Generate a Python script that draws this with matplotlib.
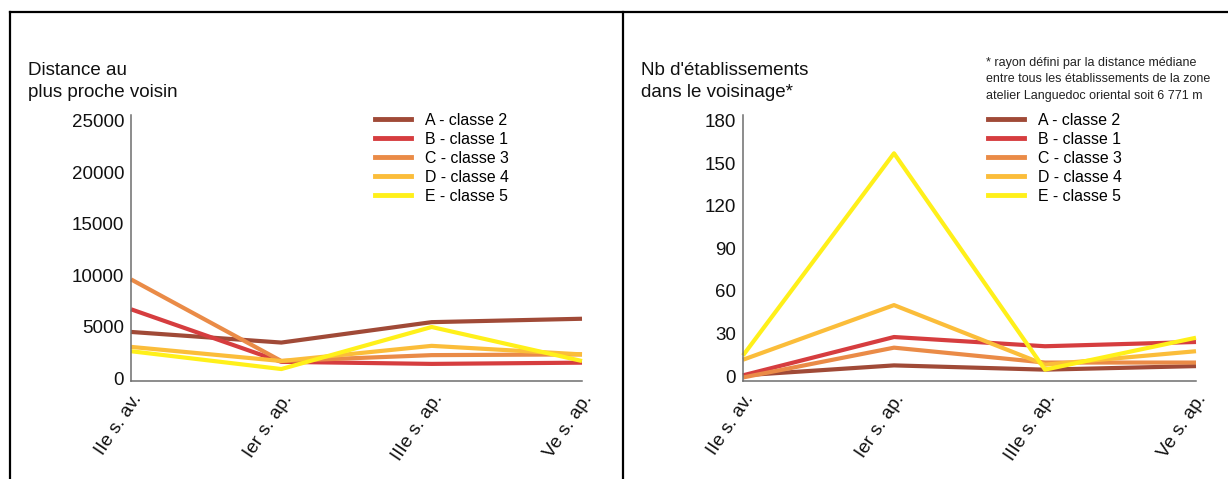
import numpy as np
import matplotlib.pyplot as plt
from matplotlib.lines import Line2D

plt.rcParams['font.family'] = ['Liberation Sans', 'DejaVu Sans']

W, H = 1228, 479

periods = ["IIe s. av.", "Ier s. ap.", "IIIe s. ap.", "Ve s. ap."]
labels = ["A - classe 2", "B - classe 1", "C - classe 3", "D - classe 4", "E - classe 5"]
colors = ["#a04a37", "#d63d3f", "#ea8b47", "#fbbd3a", "#fff01a"]

# distance au plus proche voisin (m)
dist_A = [4500, 3470, 5450, 5780]
dist_B = [6700, 1600, 1400, 1520]
dist_C = [9600, 1680, 2250, 2320]
dist_D = [3050, 1680, 3150, 2320]
dist_E = [2630, 900, 4980, 1680]

# nb d'etablissements dans le voisinage
nb_A = [0.5, 7.5, 4.5, 7]
nb_B = [0.5, 27.5, 21, 24]
nb_C = [-1, 20, 9.5, 9.5]
nb_D = [11.5, 50, 8, 17.5]
nb_E = [14.5, 157, 4.5, 27]

note = ("* rayon défini par la distance médiane\n"
        "entre tous les établissements de la zone\n"
        "atelier Languedoc oriental soit 6 771 m")


def px_axes(fig, x0, y0, x1, y1):
    # pixel box (top-left origin) -> figure fraction
    return fig.add_axes([x0 / W, 1 - y1 / H, (x1 - x0) / W, (y1 - y0) / H])


def draw_panel(ax, series, ylim, yticks, title, title_x, legend_x):
    x = np.arange(len(periods))
    for vals, c, lab in zip(series, colors, labels):
        ax.plot(x, vals, color=c, lw=3.0, label=lab, solid_capstyle="butt",
                clip_on=False)
    ax.set_xlim(0, 3)
    ax.set_ylim(*ylim)
    ax.set_yticks(yticks)
    ax.set_yticklabels([str(v) for v in yticks])
    ax.set_xticks(x)
    ax.set_xticklabels(periods, rotation=56, ha="right", va="top",
                       rotation_mode="anchor")
    for s in ["top", "right"]:
        ax.spines[s].set_visible(False)
    for s in ["left", "bottom"]:
        ax.spines[s].set_color("#6e6e6e")
        ax.spines[s].set_linewidth(1.1)
    ax.tick_params(axis="both", length=0, labelsize=13.5, colors="#111111")
    ax.tick_params(axis="y", pad=5)
    ax.tick_params(axis="x", pad=7)
    ax.patch.set_alpha(0)

    fig = ax.figure
    fig.text(title_x / W, 1 - 62 / H, title, fontsize=13.5, va="top",
             ha="left", linespacing=1.4, color="#111111")

    handles = [Line2D([], [], color=c, lw=3.5) for c in colors]
    ax.legend(handles, labels, loc="upper left", frameon=False,
              bbox_to_anchor=(legend_x / W, 1 - 113 / H),
              bbox_transform=fig.transFigure, fontsize=11.4,
              handlelength=2.3, handletextpad=0.85, labelspacing=0.25,
              borderpad=0, borderaxespad=0)


fig = plt.figure(figsize=(W / 100, H / 100), dpi=100)

# frame
fig.add_artist(Line2D([10 / W, 1], [1 - 12 / H, 1 - 12 / H], color="black",
                      lw=1.6, transform=fig.transFigure))
fig.add_artist(Line2D([10 / W, 10 / W], [0, 1 - 12 / H], color="black",
                      lw=1.6, transform=fig.transFigure))
fig.add_artist(Line2D([623.5 / W, 623.5 / W], [0, 1 - 12 / H], color="black",
                      lw=1.6, transform=fig.transFigure))

ax1 = px_axes(fig, 131, 115, 582, 381)
draw_panel(ax1, [dist_A, dist_B, dist_C, dist_D, dist_E], (-260, 25550),
           [0, 5000, 10000, 15000, 20000, 25000],
           "Distance au\nplus proche voisin", 28, 375)

ax2 = px_axes(fig, 743, 115, 1196, 381)
draw_panel(ax2, [nb_A, nb_B, nb_C, nb_D, nb_E], (-3.5, 184),
           [0, 30, 60, 90, 120, 150, 180],
           "Nb d'établissements\ndans le voisinage*", 641, 988)

fig.text(986 / W, 1 - 57 / H, note, fontsize=9, va="top", ha="left",
         linespacing=1.5, color="#222222")

fig.savefig("out.png", dpi=100)
